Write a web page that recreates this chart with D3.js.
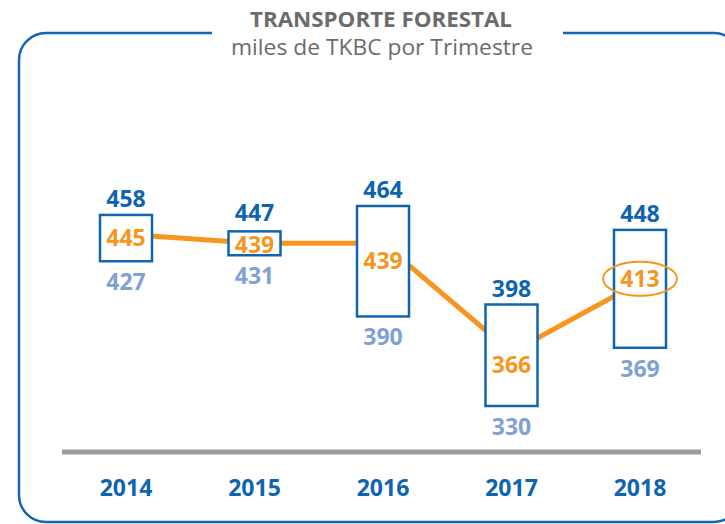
<!DOCTYPE html>
<html>
<head>
<meta charset="utf-8">
<script src="https://cdn.jsdelivr.net/npm/d3@7"></script>
<style>
  html, body { margin: 0; padding: 0; background: #fff; }
  svg { display: block; }
  text { font-family: "Open Sans", "DejaVu Sans", sans-serif; }
</style>
</head>
<body>
<svg id="chart" width="725" height="524"></svg>
<script>
// ---- data ----
const years   = ["2014", "2015", "2016", "2017", "2018"];
const maxVals = [458, 447, 464, 398, 448];
const avgVals = [445, 439, 439, 366, 413];
const minVals = [427, 431, 390, 330, 369];
const highlightYear = "2018";
const title = "TRANSPORTE FORESTAL";
const subtitle = "miles de TKBC por Trimestre";

// ---- layout ----
const avgLabelNudge = [0, 2, 0, 10, -10];
const maxLabelLift = [8, 10, 8, 8, 8];
const C = {
  darkBlue: "#0f64b0",
  lightBlue: "#7fa1d3",
  orange: "#f7961e",
  gray: "#6b6b6b",
  base: "#9b9b9b",
  frame: "#1266b2"
};

const svg = d3.select("#chart");

const x = d3.scalePoint().domain(years).range([126, 640]);
const y = d3.scaleLinear().domain([330, 464]).range([406, 206]);
const boxW = 52;

// frame with gap for title
const L = 19, T = 33, R = 741, B = 522, r = 27;
const gapL = 212, gapR = 563;
const p = d3.path();
p.moveTo(gapL, T);
p.lineTo(L + r, T);
p.arcTo(L, T, L, T + r, r);
p.lineTo(L, B - r);
p.arcTo(L, B, L + r, B, r);
p.lineTo(R - r, B);
p.arcTo(R, B, R, B - r, r);
p.lineTo(R, T + r);
p.arcTo(R, T, R - r, T, r);
p.lineTo(gapR, T);
svg.append("path").attr("d", p.toString())
  .attr("fill", "none").attr("stroke", C.frame).attr("stroke-width", 2.5);

// title
svg.append("text").attr("x", 381).attr("y", 27)
  .attr("text-anchor", "middle").attr("font-size", 21).attr("font-weight", 700)
  .attr("fill", C.gray).attr("textLength", 262).attr("lengthAdjust", "spacingAndGlyphs")
  .text(title);
svg.append("text").attr("x", 382).attr("y", 55)
  .attr("text-anchor", "middle").attr("font-size", 21)
  .attr("fill", C.gray).attr("textLength", 302).attr("lengthAdjust", "spacingAndGlyphs")
  .text(subtitle);

// baseline
svg.append("line").attr("x1", 62).attr("x2", 701).attr("y1", 452).attr("y2", 452)
  .attr("stroke", C.base).attr("stroke-width", 5);

// year labels
svg.append("g").selectAll("text").data(years).join("text")
  .attr("x", d => x(d)).attr("y", 496)
  .attr("text-anchor", "middle").attr("font-size", 23).attr("font-weight", 700)
  .attr("fill", C.darkBlue).text(d => d);

const data = years.map((yr, i) => ({ yr, max: maxVals[i], avg: avgVals[i], min: minVals[i], i }));

// avg line
const line = d3.line().x(d => x(d.yr)).y(d => y(d.avg));
svg.append("path").datum(data).attr("d", line)
  .attr("fill", "none").attr("stroke", C.orange).attr("stroke-width", 5)
  .attr("stroke-linejoin", "round");

// boxes
svg.append("g").selectAll("rect").data(data).join("rect")
  .attr("x", d => x(d.yr) - boxW / 2).attr("y", d => y(d.max))
  .attr("width", boxW).attr("height", d => y(d.min) - y(d.max))
  .attr("fill", "#fff").attr("stroke", C.darkBlue).attr("stroke-width", 2.5);

// max labels
svg.append("g").selectAll("text").data(data).join("text")
  .attr("x", d => x(d.yr)).attr("y", d => y(d.max) - maxLabelLift[d.i])
  .attr("text-anchor", "middle").attr("font-size", 23).attr("font-weight", 700)
  .attr("fill", C.darkBlue).text(d => d.max);

// min labels
svg.append("g").selectAll("text").data(data).join("text")
  .attr("x", d => x(d.yr)).attr("y", d => y(d.min) + 29)
  .attr("text-anchor", "middle").attr("font-size", 23).attr("font-weight", 700)
  .attr("fill", C.lightBlue).text(d => d.min);

// avg labels
svg.append("g").selectAll("text").data(data).join("text")
  .attr("x", d => x(d.yr)).attr("y", d => (y(d.max) + y(d.min)) / 2 + avgLabelNudge[d.i] + 8)
  .attr("text-anchor", "middle").attr("font-size", 23).attr("font-weight", 700)
  .attr("fill", C.orange).text(d => d.avg);

// highlight ellipse
const h = data.find(d => d.yr === highlightYear);
svg.append("ellipse")
  .attr("cx", x(h.yr)).attr("cy", (y(h.max) + y(h.min)) / 2 + avgLabelNudge[h.i])
  .attr("rx", 37).attr("ry", 17)
  .attr("fill", "none").attr("stroke", C.orange).attr("stroke-width", 2);
</script>
</body>
</html>
